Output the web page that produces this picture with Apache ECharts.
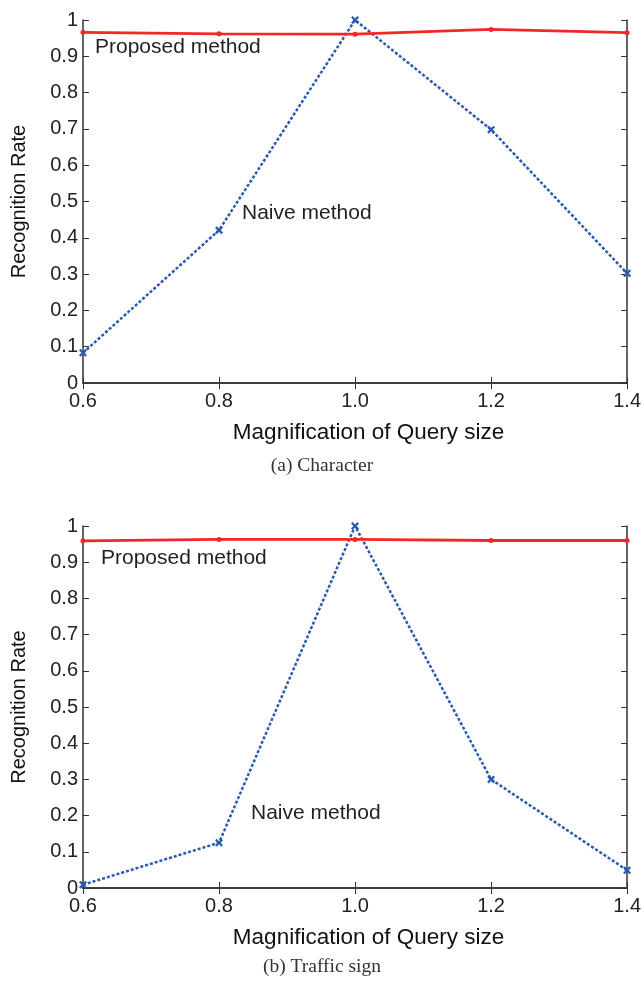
<!DOCTYPE html>
<html><head><meta charset="utf-8">
<script src="https://cdn.jsdelivr.net/npm/echarts@6/dist/echarts.min.js"></script>
<style>html,body{margin:0;padding:0;background:#fff}#c{width:644px;height:988px}</style>
</head><body><div id="c"></div>
<script>
const magnification = [0.6, 0.8, 1.0, 1.2, 1.4];
const charProposed = [0.966, 0.962, 0.961, 0.974, 0.965];
const charNaive = [0.083, 0.421, 1.0, 0.698, 0.302];
const signProposed = [0.959, 0.963, 0.963, 0.960, 0.960];
const signNaive = [0.009, 0.125, 1.0, 0.30, 0.049];
const xTitle = 'Magnification of Query size';
const yTitle = 'Recognition Rate';
const captions = ['(a) Character', '(b) Traffic sign'];

const chart = echarts.init(document.getElementById('c'), null, {renderer: 'canvas'});
const FONT = 'Liberation Sans, Arial, Helvetica, sans-serif';
const AX = '#333';
const grids = [
  {left: 83, top: 20, width: 545, height: 363},
  {left: 83, top: 526, width: 545, height: 362}
];
const xAxes = [], yAxes = [], series = [];
const pairs = [[charProposed, charNaive], [signProposed, signNaive]];
const xMark = 'path://M2,0L5,3L8,0L10,2L7,5L10,8L8,10L5,7L2,10L0,8L3,5L0,2Z';
grids.forEach((g, i) => {
  const base = {type: 'value', gridIndex: i, min: 0.6, max: 1.4, interval: 0.2,
    axisLine: {show: true, lineStyle: {color: AX, width: 1.5}},
    axisTick: {show: true, inside: true, length: 6, lineStyle: {color: AX, width: 1}},
    splitLine: {show: false}};
  xAxes.push(Object.assign({}, base, {position: 'bottom',
    axisLabel: {formatter: v => v.toFixed(1), fontFamily: FONT, fontSize: 20, color: '#222', margin: 8},
    name: xTitle, nameLocation: 'middle', nameGap: 38,
    nameTextStyle: {fontFamily: FONT, fontSize: 22.5, color: '#111', padding: [0, 0, 0, 27]}}));
  xAxes.push(Object.assign({}, base, {position: 'top', axisLabel: {show: false}}));
  const ybase = {type: 'value', gridIndex: i, min: 0, max: 1, interval: 0.1,
    axisLine: {show: true, lineStyle: {color: AX, width: 1.5}},
    axisTick: {show: true, inside: true, length: 6, lineStyle: {color: AX, width: 1}},
    splitLine: {show: false}};
  yAxes.push(Object.assign({}, ybase, {position: 'left',
    axisLabel: {fontFamily: FONT, fontSize: 20, color: '#222', margin: 5},
    name: yTitle, nameLocation: 'middle', nameGap: 54, nameRotate: 90,
    nameTextStyle: {fontFamily: FONT, fontSize: 20, color: '#111'}}));
  yAxes.push(Object.assign({}, ybase, {position: 'right', axisLabel: {show: false}}));
  const [prop, naive] = pairs[i];
  series.push({type: 'line', xAxisIndex: i * 2, yAxisIndex: i * 2,
    data: magnification.map((x, k) => [x, naive[k]]),
    symbol: xMark, symbolSize: 8, showAllSymbol: true,
    lineStyle: {color: '#2a5bb0', width: 2.5, type: [3, 2]},
    itemStyle: {color: '#2a5bb0'}, z: 3, animation: false});
  series.push({type: 'line', xAxisIndex: i * 2, yAxisIndex: i * 2,
    data: magnification.map((x, k) => [x, prop[k]]),
    symbol: 'circle', symbolSize: 5, showAllSymbol: true,
    lineStyle: {color: '#f02828', width: 2.8},
    itemStyle: {color: '#f02828'}, z: 4, animation: false});
});

const txt = (x, y, s, opts) => ({type: 'text', left: x, top: y,
  style: Object.assign({text: s, font: '21px ' + FONT, fill: '#231f20'}, opts || {})});
chart.setOption({
  animation: false,
  grid: grids,
  xAxis: xAxes,
  yAxis: yAxes,
  series: series,
  graphic: [
    txt(95, 37, 'Proposed method'),
    txt(242, 203, 'Naive method'),
    txt(101, 548, 'Proposed method'),
    txt(251, 803, 'Naive method'),
    {type: 'text', left: 'center', top: 456, style: {text: captions[0], font: '19.5px Liberation Serif, Times New Roman, serif', fill: '#333'}},
    {type: 'text', left: 'center', top: 957, style: {text: captions[1], font: '19.5px Liberation Serif, Times New Roman, serif', fill: '#333'}}
  ]
});
</script></body></html>
